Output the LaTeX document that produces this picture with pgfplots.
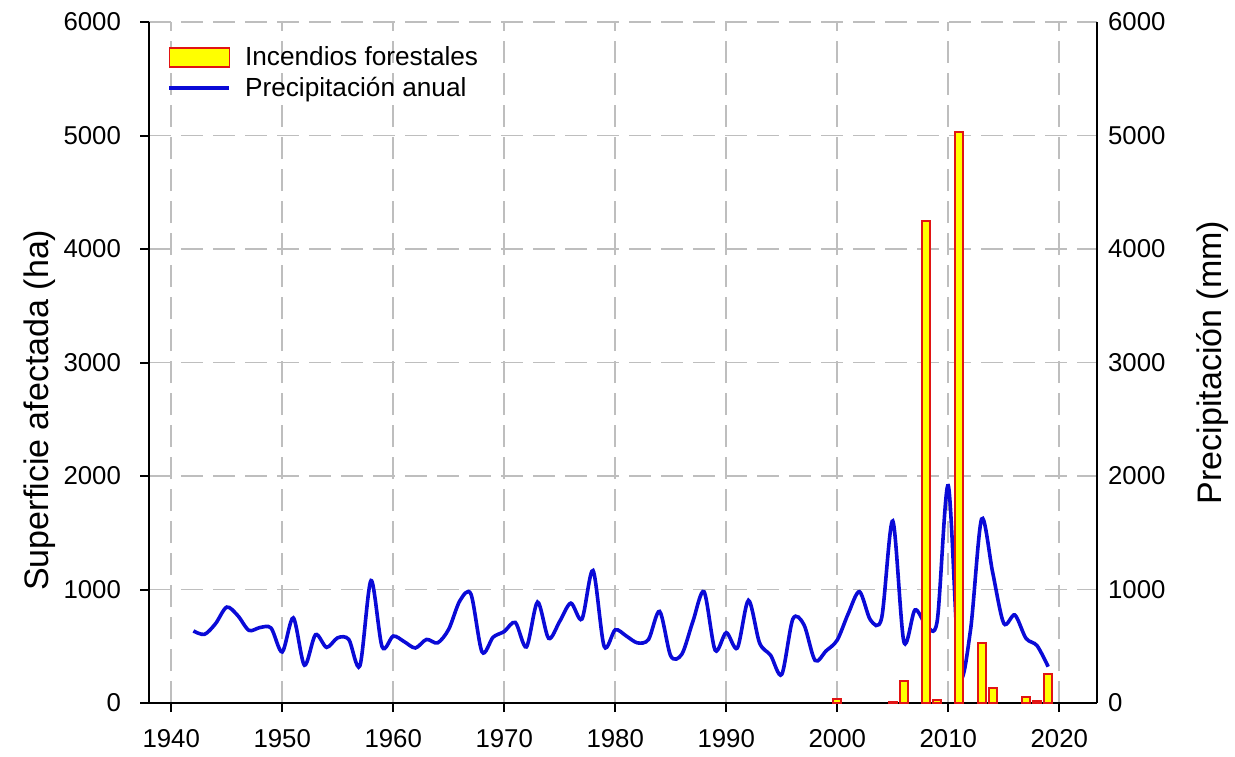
\documentclass[border=0pt]{standalone}
\usepackage{pgfplots}
\pgfplotsset{compat=1.18}
\usepackage{fontspec}
\setmainfont{Liberation Sans}
\definecolor{precip}{RGB}{10,10,215}
\definecolor{barfill}{RGB}{255,255,0}
\definecolor{baredge}{RGB}{225,20,20}
\definecolor{gridgray}{RGB}{190,190,190}
\pgfplotsset{
  boxlegend/.style={legend image code/.code={\draw[fill=barfill, draw=baredge, line width=0.8pt] (0pt,-4.75pt) rectangle (30pt,4.75pt);}},
  linelegend/.style={legend image code/.code={\draw[precip, line width=1.8pt] (0pt,0pt) -- (30pt,0pt);}},
}
\begin{document}
\begin{tikzpicture}
\useasboundingbox (-74.5pt,-26.5pt) rectangle (543pt,351.5pt);
\begin{axis}[
  at={(0pt,0pt)}, anchor=south west,
  scale only axis, width=474pt, height=340.5pt,
  xmin=1938, xmax=2023.4, ymin=0, ymax=6000,
  axis x line*=bottom, axis y line*=left,
  axis line style={-, line width=1pt, black},
  xtick={1940,1950,...,2020}, ytick={0,1000,...,6000},
  tick align=outside, major tick length=4.5pt,
  tick style={line width=1pt, black},
  grid=major,
  major grid style={gridgray, line width=0.8pt, dash pattern=on 11pt off 5pt},
  /pgf/number format/assume math mode=true,
  /pgf/number format/1000 sep={},
  ticklabel style={font=\fontsize{12.9}{14}\selectfont},
  xticklabel style={yshift=-5pt},
  yticklabel style={xshift=-6pt},
  ylabel={Superficie afectada (ha)},
  ylabel style={font=\fontsize{17}{20}\selectfont, at={(axis description cs:-0.115,0.43)}, anchor=center, rotate=0},
  legend style={draw=none, fill=none, at={(axis description cs:0.017,0.973)}, anchor=north west,
    font=\fontsize{13.1}{15}\selectfont, row sep=0pt, inner sep=1pt,
    /tikz/every odd column/.append style={column sep=5pt}},
  legend cell align=left,
]
\addlegendimage{boxlegend}
\addlegendentry{Incendios forestales}
\addplot[smooth, precip, line width=1.8pt, linelegend]
  table {
1942 635
1943 605
1944 700
1945 845
1946 770
1947 640
1948 665
1949 660
1950 450
1951 750
1952 333
1953 602
1954 490
1955 575
1956 560
1957 328
1958 1079
1959 495
1960 590
1961 540
1962 485
1963 560
1964 530
1965 650
1966 900
1967 960
1968 450
1969 580
1970 630
1971 710
1972 494
1973 889
1974 570
1975 720
1976 880
1977 740
1978 1167
1979 500
1980 645
1981 590
1982 530
1983 560
1984 807
1985 415
1986 430
1987 720
1988 980
1989 465
1990 620
1991 485
1992 904
1993 530
1994 420
1995 252
1996 740
1997 690
1998 375
1999 460
2000 555
2001 790
2002 981
2003 730
2004 750
2005 1604
2006 540
2007 820
2008 690
2009 720
2010 1915
2011 260
2012 640
2013 1621
2014 1150
2015 702
2016 775
2017 570
2018 505
2019 320
};
\addlegendentry{Precipitación anual}
\addplot[ybar, bar width=0.72, fill=barfill, draw=baredge, line width=1pt, forget plot]
  table {
2000 32
2005 12
2006 197
2008 4250
2009 26
2011 5035
2013 526
2014 135
2017 53
2018 15
2019 255
};
\end{axis}
\begin{axis}[
  at={(0pt,0pt)}, anchor=south west,
  scale only axis, width=474pt, height=340.5pt,
  xmin=1938, xmax=2023.4, ymin=0, ymax=6000,
  axis x line=none, axis y line*=right,
  axis line style={-, line width=1pt, black},
  ytick={0,1000,...,6000},
  ytick style={draw=none},
  /pgf/number format/assume math mode=true,
  /pgf/number format/1000 sep={},
  ticklabel style={font=\fontsize{12.9}{14}\selectfont},
  yticklabel style={xshift=2pt},
  ylabel={Precipitación (mm)},
  ylabel style={font=\fontsize{17}{20}\selectfont, at={(axis description cs:1.122,0.5)}, anchor=center, rotate=0},
]
\end{axis}
\end{tikzpicture}
\end{document}
